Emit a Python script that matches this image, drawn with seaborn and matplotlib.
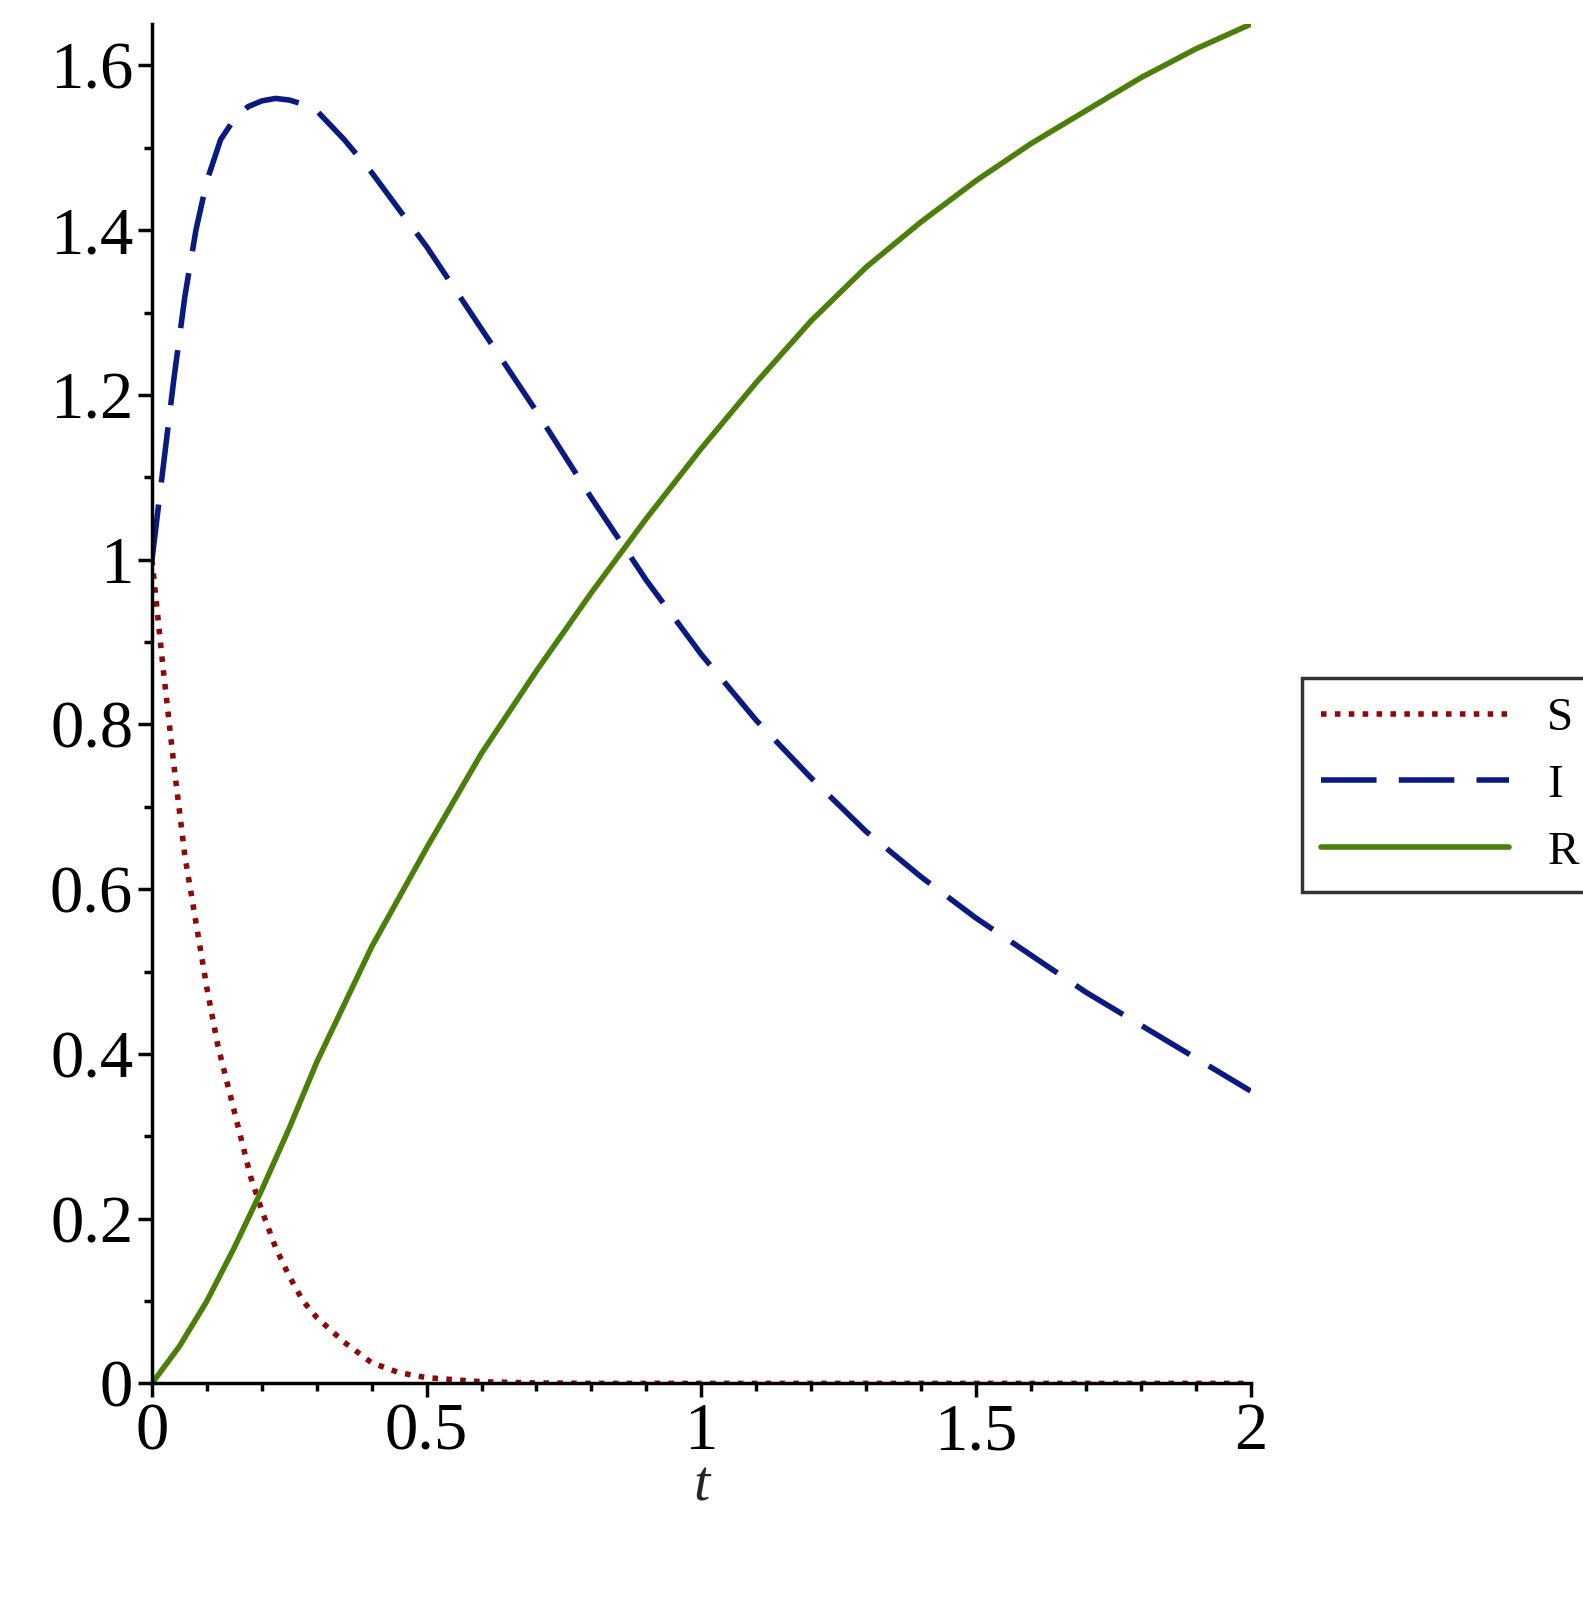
import numpy as np
import pandas as pd
import seaborn as sns
import matplotlib.pyplot as plt
from matplotlib.ticker import MultipleLocator

# values
t_s = [0, 0.02, 0.04, 0.06, 0.08, 0.1, 0.12, 0.15, 0.18, 0.2, 0.225, 0.25, 0.275, 0.3, 0.35, 0.4, 0.45, 0.5, 0.6, 0.7, 0.8, 1.0, 1.5, 2.0]
S = [1.0, 0.87, 0.75, 0.64, 0.56, 0.48, 0.41, 0.33, 0.25, 0.21, 0.165, 0.13, 0.10, 0.08, 0.05, 0.025, 0.013, 0.007, 0.002, 0.0005, 0, 0, 0, 0]

t_i = [0, 0.02, 0.04, 0.06, 0.08, 0.1, 0.125, 0.15, 0.175, 0.2, 0.225, 0.25, 0.275, 0.3, 0.35, 0.4, 0.45, 0.5, 0.6, 0.7, 0.8, 0.9, 1.0, 1.1, 1.2, 1.3, 1.4, 1.5, 1.6, 1.7, 1.8, 1.9, 2.0]
I = [1.0, 1.11, 1.22, 1.32, 1.40, 1.46, 1.51, 1.535, 1.55, 1.557, 1.56, 1.558, 1.553, 1.545, 1.51, 1.47, 1.425, 1.38, 1.28, 1.18, 1.075, 0.975, 0.885, 0.805, 0.735, 0.67, 0.615, 0.565, 0.52, 0.475, 0.435, 0.395, 0.355]

t_r = [0, 0.05, 0.1, 0.15, 0.2, 0.25, 0.3, 0.35, 0.4, 0.45, 0.5, 0.6, 0.7, 0.8, 0.9, 1.0, 1.1, 1.2, 1.3, 1.4, 1.5, 1.6, 1.7, 1.8, 1.9, 2.0]
R = [0, 0.045, 0.10, 0.165, 0.235, 0.31, 0.39, 0.46, 0.53, 0.59, 0.65, 0.765, 0.865, 0.96, 1.05, 1.135, 1.215, 1.29, 1.355, 1.41, 1.46, 1.505, 1.545, 1.585, 1.62, 1.65]

sns.set_style('ticks')
plt.rcParams['font.family'] = ['Liberation Serif', 'DejaVu Serif']
plt.rcParams['text.color'] = 'black'
plt.rcParams['xtick.color'] = 'black'
plt.rcParams['ytick.color'] = 'black'
plt.rcParams['axes.edgecolor'] = 'black'

fig = plt.figure(figsize=(15.83, 16.18), dpi=100)
ax = fig.add_axes([0.096, 0.145, 0.694, 0.84])

sns.lineplot(x=t_s, y=S, ax=ax, color='#8B0A0A', lw=4, ls=(0, (1, 1.5)), label='S')
sns.lineplot(x=t_i, y=I, ax=ax, color='#0A1A80', lw=4, ls=(0, (10, 4)), label='I')
sns.lineplot(x=t_r, y=R, ax=ax, color='#4B7F0A', lw=4, label='R')

ax.set_xlim(0, 2)
ax.set_ylim(0, 1.65)
ax.xaxis.set_minor_locator(MultipleLocator(0.1))
ax.yaxis.set_minor_locator(MultipleLocator(0.1))
ax.set_xticks([0, 0.5, 1, 1.5, 2], ['0', '0.5', '1', '1.5', '2'])
ax.set_yticks([0, 0.2, 0.4, 0.6, 0.8, 1, 1.2, 1.4, 1.6], ['0', '0.2', '0.4', '0.6', '0.8', '1', '1.2', '1.4', '1.6'])
ax.tick_params(which='major', labelsize=48, length=10, width=2.5)
ax.tick_params(which='minor', length=6, width=2.5)
for s in ['left', 'bottom']:
    ax.spines[s].set_linewidth(2.5)
sns.despine(ax=ax)
ax.set_xlabel('t', fontsize=42, style='italic', labelpad=-2)

ax.legend(loc='center left', bbox_to_anchor=(1.025, 0.44), fontsize=34, frameon=True,
          fancybox=False, edgecolor='black', handlelength=4)
ax.get_legend().get_frame().set_linewidth(2.5)

fig.savefig('out.png', dpi=100)
